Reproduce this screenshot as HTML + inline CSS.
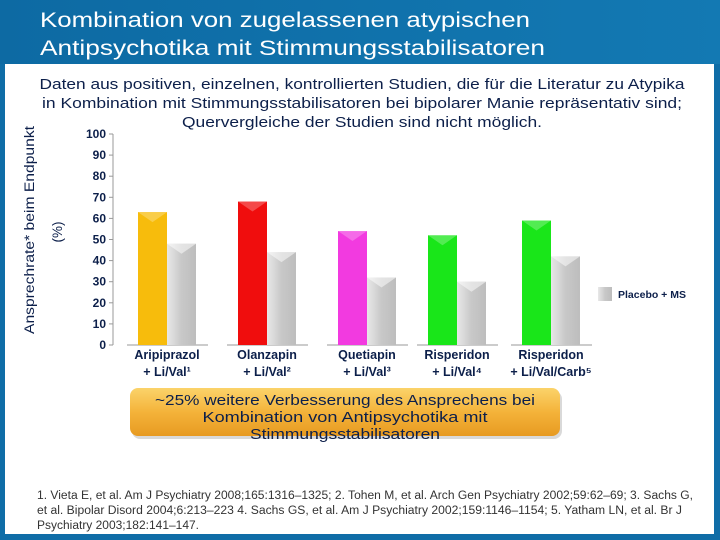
<!DOCTYPE html>
<html><head><meta charset="utf-8"><style>
body{margin:0;width:720px;height:540px;overflow:hidden;font-family:"Liberation Sans",sans-serif;}
svg{display:block}
</style></head><body>
<svg id="c" width="720" height="540" xmlns="http://www.w3.org/2000/svg">
<defs>
<linearGradient id="hdr" x1="0" x2="1"><stop offset="0" stop-color="#0d6aa3"/><stop offset="1" stop-color="#1379b3"/></linearGradient>
<linearGradient id="gy" x1="0" x2="1"><stop offset="0" stop-color="#e8e8e8"/><stop offset="0.5" stop-color="#c8c8c8"/><stop offset="1" stop-color="#bdbdbd"/></linearGradient>
<linearGradient id="org" x1="0" y1="0" x2="0" y2="1"><stop offset="0" stop-color="#fbd36a"/><stop offset="0.5" stop-color="#f4b33a"/><stop offset="1" stop-color="#e79a21"/></linearGradient>
</defs>
<rect x="0" y="0" width="720" height="540" fill="#0f6da7"/>
<rect x="0" y="0" width="720" height="64" fill="url(#hdr)"/>
<rect x="5" y="64" width="709" height="470" fill="#ffffff"/>
<text x="40" y="27" fill="#fff" font-size="21" textLength="490" lengthAdjust="spacingAndGlyphs">Kombination von zugelassenen atypischen</text>
<text x="40" y="55" fill="#fff" font-size="21" textLength="505" lengthAdjust="spacingAndGlyphs">Antipsychotika mit Stimmungsstabilisatoren</text>
<g font-size="15" fill="#0c1f4a" text-anchor="middle">
<text x="362" y="89" textLength="645" lengthAdjust="spacingAndGlyphs">Daten aus positiven, einzelnen, kontrollierten Studien, die für die Literatur zu Atypika</text>
<text x="362" y="108" textLength="640" lengthAdjust="spacingAndGlyphs">in Kombination mit Stimmungsstabilisatoren bei bipolarer Manie repräsentativ sind;</text>
<text x="362" y="127" textLength="360" lengthAdjust="spacingAndGlyphs">Quervergleiche der Studien sind nicht möglich.</text>
</g>
<text transform="translate(34,230) rotate(-90)" font-size="13.5" fill="#0c1f4a" text-anchor="middle" textLength="208" lengthAdjust="spacingAndGlyphs">Ansprechrate* beim Endpunkt</text>
<text transform="translate(62,232) rotate(-90)" font-size="13.5" fill="#0c1f4a" text-anchor="middle">(%)</text>
<g id="chart"></g>
<rect x="598" y="287" width="14" height="14" fill="url(#gy)"/>
<text x="618" y="298" font-size="10.5" font-weight="bold" fill="#0c1f4a">Placebo + MS</text>
<rect x="132" y="391" width="430" height="48" rx="8" fill="#000" opacity="0.15"/>
<rect x="130" y="388" width="430" height="48" rx="8" fill="url(#org)"/>
<g font-size="15" fill="#0c1f4a" text-anchor="middle">
<text x="345" y="405" textLength="380" lengthAdjust="spacingAndGlyphs">~25% weitere Verbesserung des Ansprechens bei</text>
<text x="345" y="422" textLength="285" lengthAdjust="spacingAndGlyphs">Kombination von Antipsychotika mit</text>
<text x="345" y="439" textLength="190" lengthAdjust="spacingAndGlyphs">Stimmungsstabilisatoren</text>
</g>
<g font-size="11.5" fill="#333">
<text x="37" y="499" textLength="656" lengthAdjust="spacingAndGlyphs">1. Vieta E, et al. Am J Psychiatry 2008;165:1316–1325; 2. Tohen M, et al. Arch Gen Psychiatry 2002;59:62–69; 3. Sachs G,</text>
<text x="37" y="514" textLength="645" lengthAdjust="spacingAndGlyphs">et al. Bipolar Disord 2004;6:213–223 4. Sachs GS, et al. Am J Psychiatry 2002;159:1146–1154; 5. Yatham LN, et al. Br J</text>
<text x="37" y="529" textLength="162" lengthAdjust="spacingAndGlyphs">Psychiatry 2003;182:141–147.</text>
</g>
</svg>
<script>
const categories=["Aripiprazol","Olanzapin","Quetiapin","Risperidon","Risperidon"];
const subLabels=["+ Li/Val¹","+ Li/Val²","+ Li/Val³","+ Li/Val⁴","+ Li/Val/Carb⁵"];
const drugValues=[63,68,54,52,59];
const placeboValues=[48,44,32,30,42];
const drugColors=["#f7bc0c","#f00d0d","#f23ae0","#19e619","#19e619"];
const yTicks=[0,10,20,30,40,50,60,70,80,90,100];
const NS="http://www.w3.org/2000/svg";
const g=document.getElementById('chart');
const y0=345,y100=134;
function yScale(v){return y0-(y0-y100)*v/100;}
const groupX=[138,238,338,428,522];
function xScale(i){return groupX[i];}
const bw=29;
function mk(t,a,p){const e=document.createElementNS(NS,t);for(const k in a)e.setAttribute(k,a[k]);(p||g).appendChild(e);return e;}
let ax=mk('line',{x1:113,y1:y100,x2:113,y2:y0,stroke:'#999'});


yTicks.forEach(t=>{
 const y=yScale(t);
 let tk=mk('line',{x1:109,y1:y,x2:113,y2:y,stroke:'#999'});
 
 
 let tx=mk('text',{x:106,y:y+4,'text-anchor':'end','font-size':12,'font-weight':'bold',fill:'#0c1f4a'});
 tx.textContent=t;
 
 
});
categories.forEach((c,i)=>{
 const x=xScale(i);
 let bl=mk('line',{x1:x-11,y1:y0,x2:x+2*bw+12,y2:y0,stroke:'#999'});
 
 
 const yd=yScale(drugValues[i]);
 let b=mk('rect',{x:x,y:yd,width:bw,height:y0-yd,fill:drugColors[i]});
 
 
 mk('polygon',{points:`${x},${yd} ${x+bw},${yd} ${x+bw/2},${yd+10}`,fill:'#fff',opacity:0.25});
 const yp=yScale(placeboValues[i]);
 let p=mk('rect',{x:x+bw,y:yp,width:bw,height:y0-yp,fill:'url(#gy)'});
 
 
 mk('polygon',{points:`${x+bw},${yp} ${x+2*bw},${yp} ${x+1.5*bw},${yp+10}`,fill:'#fff',opacity:0.5});
 let l1=mk('text',{x:x+bw,y:359,'text-anchor':'middle','font-size':12.5,'font-weight':'bold',fill:'#0c1f4a'});
 l1.textContent=c;
 
 
 let l2=mk('text',{x:x+bw,y:376,'text-anchor':'middle','font-size':12.5,'font-weight':'bold',fill:'#0c1f4a'});
 l2.textContent=subLabels[i];
 
 
});
</script>
</body></html>
